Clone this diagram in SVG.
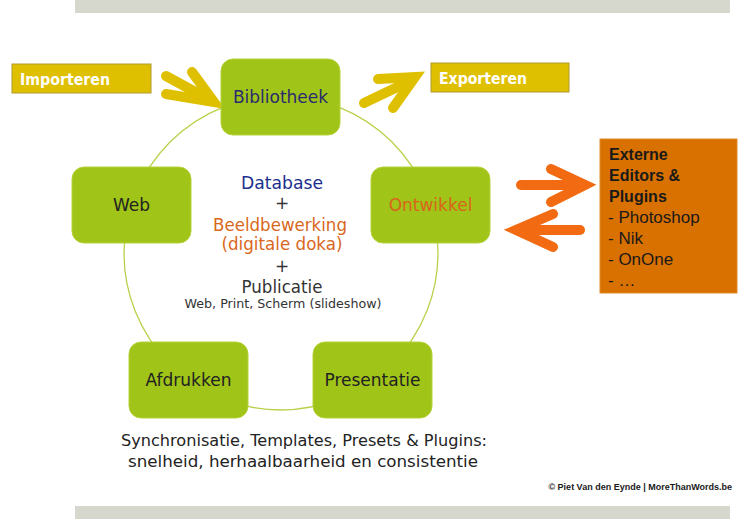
<svg xmlns="http://www.w3.org/2000/svg" width="750" height="519" viewBox="0 0 750 519">
<defs>
<style>
.bar{fill:#d6d8ce}
.node rect{fill:#a0c418;stroke:#b5d23a;stroke-width:1}
.lbl{font-family:"DejaVu Sans","Liberation Sans",sans-serif;font-size:17px;text-anchor:middle}
.tag rect{fill:#dfc000;stroke:#b09a30;stroke-width:1}
.tag text{font-family:"DejaVu Sans","Liberation Sans",sans-serif;font-size:16px;font-weight:bold;fill:#ffffff}
.yarrow{fill:none;stroke:#dfc000;stroke-width:10;stroke-linecap:round;stroke-linejoin:miter}
.oarrow{fill:none;stroke:#f26b12;stroke-width:10;stroke-linecap:round;stroke-linejoin:miter}
.ext text{font-family:"Liberation Sans",Arial,sans-serif;font-size:17px;fill:#1a1a1a}
.ext .b{font-weight:bold;font-size:16px}
</style>
</defs>
<rect x="0" y="0" width="750" height="519" fill="#ffffff"/>
<rect class="bar" x="75" y="0" width="655" height="13"/>
<rect class="bar" x="75" y="506" width="655" height="13"/>

<g id="connectors">
<circle cx="281" cy="253" r="157" fill="none" stroke="#b7d24a" stroke-width="1.3"/>
<g id="arrow-import">
<line class="yarrow" x1="166" y1="76" x2="210" y2="100"/>
<polyline class="yarrow" points="192,72 214,102 166,94"/>
</g>
<g id="arrow-export">
<line class="yarrow" x1="364" y1="103" x2="408" y2="82"/>
<polyline class="yarrow" points="378,79 415,77 393,108"/>
</g>
<g id="arrow-to-ext">
<line class="oarrow" x1="521" y1="185" x2="578" y2="185"/>
<polyline class="oarrow" points="551,169 585,185 551,202"/>
</g>
<g id="arrow-from-ext">
<line class="oarrow" x1="580" y1="230" x2="522" y2="230"/>
<polyline class="oarrow" points="553,214 516,230 553,247"/>
</g>
</g>

<g id="importeren" class="tag">
<rect x="12" y="64" width="139" height="29"/>
<text x="20" y="85" textLength="90" lengthAdjust="spacingAndGlyphs">Importeren</text>
</g>
<g id="exporteren" class="tag">
<rect x="431" y="63" width="138" height="29"/>
<text x="439" y="84" textLength="88" lengthAdjust="spacingAndGlyphs">Exporteren</text>
</g>

<g id="bibliotheek" class="node">
<rect x="221" y="59" width="119" height="76" rx="12"/>
<text class="lbl" x="280.5" y="103" fill="#2b2b6e">Bibliotheek</text>
</g>
<g id="web" class="node">
<rect x="72" y="167" width="119" height="76" rx="12"/>
<text class="lbl" x="131.5" y="211" fill="#222222">Web</text>
</g>
<g id="ontwikkel" class="node">
<rect x="371" y="167" width="119" height="76" rx="12"/>
<text class="lbl" x="430.5" y="211" fill="#d9651c">Ontwikkel</text>
</g>
<g id="afdrukken" class="node">
<rect x="129" y="342" width="119" height="76" rx="12"/>
<text class="lbl" x="188.5" y="386" fill="#222222">Afdrukken</text>
</g>
<g id="presentatie" class="node">
<rect x="313" y="342" width="119" height="76" rx="12"/>
<text class="lbl" x="372.5" y="386" fill="#222222">Presentatie</text>
</g>

<g id="center-text" class="lbl">
<text x="282" y="189" fill="#1c2f8f" textLength="82" lengthAdjust="spacingAndGlyphs">Database</text>
<text x="282" y="209" fill="#333333">+</text>
<text x="280" y="231" fill="#d9681c" textLength="134" lengthAdjust="spacingAndGlyphs">Beeldbewerking</text>
<text x="282" y="250" fill="#d9681c" textLength="121" lengthAdjust="spacingAndGlyphs">(digitale doka)</text>
<text x="282" y="272" fill="#333333">+</text>
<text x="282" y="293" fill="#333333" textLength="81" lengthAdjust="spacingAndGlyphs">Publicatie</text>
<text x="283" y="308" fill="#333333" style="font-size:12px" textLength="197" lengthAdjust="spacingAndGlyphs">Web, Print, Scherm (slideshow)</text>
</g>

<g id="externe" class="ext">
<rect x="600" y="139" width="137" height="154" fill="#d97100" stroke="#e08a2a" stroke-width="1"/>
<text class="b" x="609" y="160">Externe</text>
<text class="b" x="609" y="181">Editors &amp;</text>
<text class="b" x="609" y="202">Plugins</text>
<text x="608" y="223">- Photoshop</text>
<text x="608" y="244">- Nik</text>
<text x="608" y="265">- OnOne</text>
<text x="608" y="286">- …</text>
</g>

<g id="footer-text" class="lbl">
<text x="304" y="446" fill="#222222" style="font-size:16px" textLength="366" lengthAdjust="spacingAndGlyphs">Synchronisatie, Templates, Presets &amp; Plugins:</text>
<text x="303" y="467" fill="#222222" style="font-size:16px" textLength="350" lengthAdjust="spacingAndGlyphs">snelheid, herhaalbaarheid en consistentie</text>
</g>

<text x="732" y="490" text-anchor="end" font-family="'Liberation Sans',sans-serif" font-size="9" font-weight="bold" fill="#1a1a1a">© Piet Van den Eynde | MoreThanWords.be</text>
</svg>
